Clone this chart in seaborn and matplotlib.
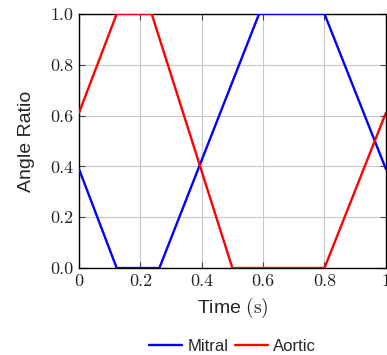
import pandas as pd
import matplotlib
matplotlib.use("Agg")
import matplotlib.pyplot as plt
import seaborn as sns

# valve opening curves (piecewise linear)
mitral_t = [0.0, 0.123, 0.262, 0.587, 0.80, 1.0]
mitral_r = [0.39, 0.0, 0.0, 1.0, 1.0, 0.39]
aortic_t = [0.0, 0.123, 0.237, 0.50, 0.80, 1.0]
aortic_r = [0.61, 1.0, 1.0, 0.0, 0.0, 0.61]
xticks = [0, 0.2, 0.4, 0.6, 0.8, 1.0]
xtick_labels = ["0", "0.2", "0.4", "0.6", "0.8", "1"]
yticks = [0, 0.2, 0.4, 0.6, 0.8, 1.0]
ytick_labels = ["0.0", "0.2", "0.4", "0.6", "0.8", "1.0"]

df = pd.concat([
    pd.DataFrame({"t": mitral_t, "ratio": mitral_r, "valve": "Mitral"}),
    pd.DataFrame({"t": aortic_t, "ratio": aortic_r, "valve": "Aortic"}),
])

sns.set_style("ticks")
plt.rcParams["font.family"] = ["Liberation Sans", "DejaVu Sans"]
plt.rcParams["mathtext.fontset"] = "cm"

fig = plt.figure(figsize=(3.87, 3.55), dpi=100)
ax = fig.add_axes([0.204, 0.245, 0.793, 0.716])

sns.lineplot(data=df, x="t", y="ratio", hue="valve", sort=False,
             palette={"Mitral": "#0000ff", "Aortic": "#ff0000"},
             linewidth=1.7, ax=ax, zorder=3)

ax.set_xlim(0, 1)
ax.set_ylim(0, 1)
ax.set_xticks(xticks)
ax.set_xticklabels(xtick_labels, fontfamily="cmr10", fontsize=13)
ax.set_yticks(yticks)
ax.set_yticklabels(ytick_labels, fontfamily="cmr10", fontsize=13)
ax.tick_params(direction="in", length=4, width=0.8, top=True, right=True,
               colors="#444444", labelcolor="#222222", pad=4)
ax.grid(True, color="#c8c8c8", linewidth=0.8, zorder=0)
for s in ax.spines.values():
    s.set_linewidth(1.0)
    s.set_color("black")

ax.set_xlabel(r"Time $(\mathrm{s})$", fontsize=14, labelpad=5)
ax.set_ylabel("Angle Ratio", fontsize=14, labelpad=11)

ax.get_legend().remove()
handles, labels = ax.get_legend_handles_labels()
fig.legend(handles, labels, loc="center", bbox_to_anchor=(0.601, 0.024),
           ncol=2, frameon=False, fontsize=12, handlelength=2.0,
           handletextpad=0.3, columnspacing=0.4, borderaxespad=0)

fig.savefig("out.png", dpi=100)
